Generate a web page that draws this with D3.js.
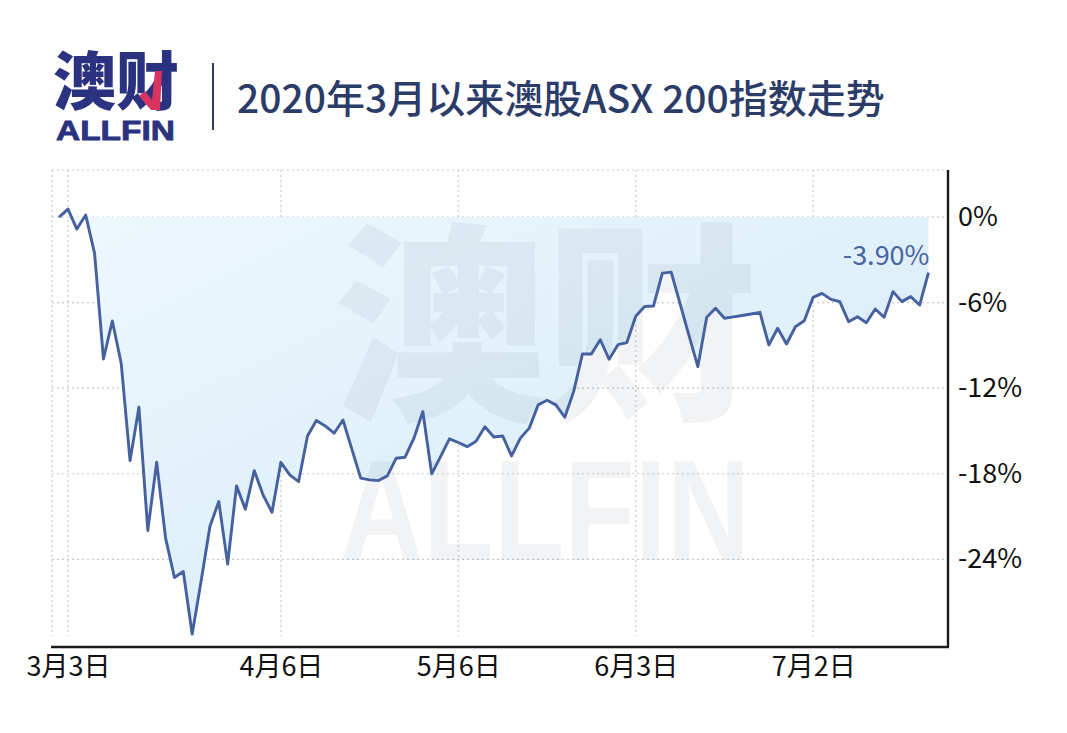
<!DOCTYPE html>
<html>
<head>
<meta charset="utf-8">
<script src="https://cdn.jsdelivr.net/npm/d3@7"></script>
<style>
  html, body { margin: 0; padding: 0; background: #ffffff; }
  svg { display: block; }
  text { font-family: "Noto Sans CJK SC", "Noto Sans", sans-serif; }
</style>
</head>
<body>
<svg id="chart" width="1067" height="733"></svg>
<script>
// ASX 200 cumulative change since 2 March 2020 (%), one value per trading day
const values = [
  0, 0.56, -0.84, 0.14, -2.55, -9.95, -7.29, -10.25, -17.08, -13.34,
  -21.98, -17.19, -22.5, -25.28, -24.86, -29.25, -25.55, -21.70, -19.95, -24.34,
  -18.85, -20.49, -17.78, -19.5, -20.70, -17.2, -18.08, -18.55, -15.35, -14.27,
  -14.65, -15.16, -14.23, -16.27, -18.31, -18.43, -18.48, -18.15, -16.91, -16.84,
  -15.51, -13.64, -18.01, -16.8, -15.55, -15.81, -16.1, -15.73, -14.7, -15.42,
  -15.35, -16.75, -15.5, -14.8, -13.17, -12.85, -13.17, -14.04, -12.24, -9.6,
  -9.6, -8.6, -9.97, -8.95, -8.8, -6.95, -6.27, -6.24, -3.93, -3.86,
  -6.08, -8.29, -10.49, -7.03, -6.4, -7.1, -7.0, -6.9, -6.8, -6.68,
  -8.97, -7.8, -8.9, -7.69, -7.27, -5.63, -5.35, -5.77, -5.93, -7.34,
  -6.99, -7.41, -6.45, -7.03, -5.23, -5.93, -5.58, -6.17, -3.90
];
const xTickIndex = [1, 25, 45, 65, 85];
const xTickLabels = ["3月3日", "4月6日", "5月6日", "6月3日", "7月2日"];
const yTicks = [0, -6, -12, -18, -24];
const titleText = "2020年3月以来澳股ASX 200指数走势";
const lastLabel = "-3.90%";

const svg = d3.select("#chart");
const x = d3.scaleLinear().domain([-0.8, 100.2]).range([52, 948]);
const y = d3.scaleLinear().domain([-30.15, 3.3]).range([647, 170]);
const [xL, xR] = x.range();
const yTop = y(3.3), yBot = y(-30.15);

// ---- header / logo ----
const logoBlue = "#2b3380";
const logo = svg.append("text").attr("fill", logoBlue);
logo.append("tspan").attr("x", 53).attr("y", 104)
  .attr("font-size", 63).attr("font-weight", 900).text("澳财");
logo.append("tspan").attr("x", 56).attr("y", 140)
  .style("font-family", "'Liberation Sans', Arial, sans-serif")
  .attr("font-size", 27).attr("font-weight", 700)
  .attr("stroke", logoBlue).attr("stroke-width", 0.8)
  .attr("textLength", 119).attr("lengthAdjust", "spacingAndGlyphs")
  .text("ALLFIN");
svg.append("path")
  .attr("d", "M139,96 L145,91 L152,100 L155,71 L162,71 L160,110 L151,110 Z")
  .attr("fill", "#d8345f");
svg.append("line").attr("x1", 213).attr("x2", 213).attr("y1", 63).attr("y2", 130)
  .attr("stroke", "#2f3d6b").attr("stroke-width", 2);
svg.append("text").attr("x", 237).attr("y", 113)
  .attr("font-size", 39).attr("font-weight", 500).attr("fill", "#2c3c68")
  .text(titleText);

// ---- defs ----
const defs = svg.append("defs");
const grad = defs.append("linearGradient").attr("id", "areaGrad")
  .attr("x1", "0").attr("y1", "0").attr("x2", "1").attr("y2", "1");
grad.append("stop").attr("offset", "0%").attr("stop-color", "#eef8fd");
grad.append("stop").attr("offset", "55%").attr("stop-color", "#dff0fa");
grad.append("stop").attr("offset", "100%").attr("stop-color", "#d3e9f7");

// ---- grid ----
const grid = svg.append("g");
grid.selectAll("line.h").data(yTicks.concat([3.3])).join("line")
  .attr("x1", xL).attr("x2", xR).attr("y1", d => y(d)).attr("y2", d => y(d))
  .attr("stroke", "#c9c9c9").attr("stroke-width", 1.2).attr("stroke-dasharray", "2,3");
grid.selectAll("line.v").data([-0.8].concat(xTickIndex)).join("line")
  .attr("x1", d => x(d)).attr("x2", d => x(d)).attr("y1", yTop).attr("y2", 636)
  .attr("stroke", "#c9c9c9").attr("stroke-width", 1.2).attr("stroke-dasharray", "2,3");

// ---- area ----
const area = d3.area().x((d, i) => x(i)).y0(y(0)).y1(d => y(d));
svg.append("path").datum(values).attr("d", area).attr("fill", "url(#areaGrad)");

// ---- watermark ----
const wm = svg.append("text").attr("fill", "#707c8e").attr("fill-opacity", 0.09);
wm.append("tspan").attr("x", 334).attr("y", 404)
  .attr("font-size", 212).attr("font-weight", 900).text("澳财");
wm.append("tspan").attr("x", 340).attr("y", 560)
  .style("font-family", "'Liberation Sans', Arial, sans-serif")
  .attr("font-size", 142).attr("font-weight", 700)
  .attr("textLength", 410).attr("lengthAdjust", "spacingAndGlyphs").text("ALLFIN");

// ---- line ----
const line = d3.line().x((d, i) => x(i)).y(d => y(d));
svg.append("path").datum(values).attr("d", line)
  .attr("fill", "none").attr("stroke", "#4561a0").attr("stroke-width", 2.9)
  .attr("stroke-linejoin", "round");

// ---- axes ----
const yAxis = svg.append("g").attr("transform", `translate(${xR},0)`)
  .call(d3.axisRight(y).tickValues(yTicks).tickSize(0).tickPadding(10).tickFormat(d => d + "%"));
yAxis.select(".domain").remove();
yAxis.selectAll("text").attr("font-size", 27).attr("fill", "#111")
  .style("font-family", "'Noto Sans CJK SC', sans-serif");

const xAxis = svg.append("g").attr("transform", `translate(0,${yBot})`)
  .call(d3.axisBottom(x).tickValues(xTickIndex).tickSize(0).tickPadding(10)
    .tickFormat((d, i) => xTickLabels[i]));
xAxis.select(".domain").remove();
xAxis.selectAll("text").attr("font-size", 27).attr("fill", "#111")
  .style("font-family", "'Noto Sans CJK SC', sans-serif");

svg.append("line").attr("x1", xL - 1).attr("x2", xR + 1).attr("y1", yBot).attr("y2", yBot)
  .attr("stroke", "#1a1a1a").attr("stroke-width", 2.4);
svg.append("line").attr("x1", xR).attr("x2", xR).attr("y1", yTop).attr("y2", yBot)
  .attr("stroke", "#1a1a1a").attr("stroke-width", 2.4);

// ---- last value label ----
const lastIdx = values.length - 1;
svg.append("text").attr("x", x(lastIdx) + 1).attr("y", y(values[lastIdx]) - 8)
  .attr("text-anchor", "end").attr("font-size", 27).attr("fill", "#4a64a0")
  .text(lastLabel);
</script>
</body>
</html>
